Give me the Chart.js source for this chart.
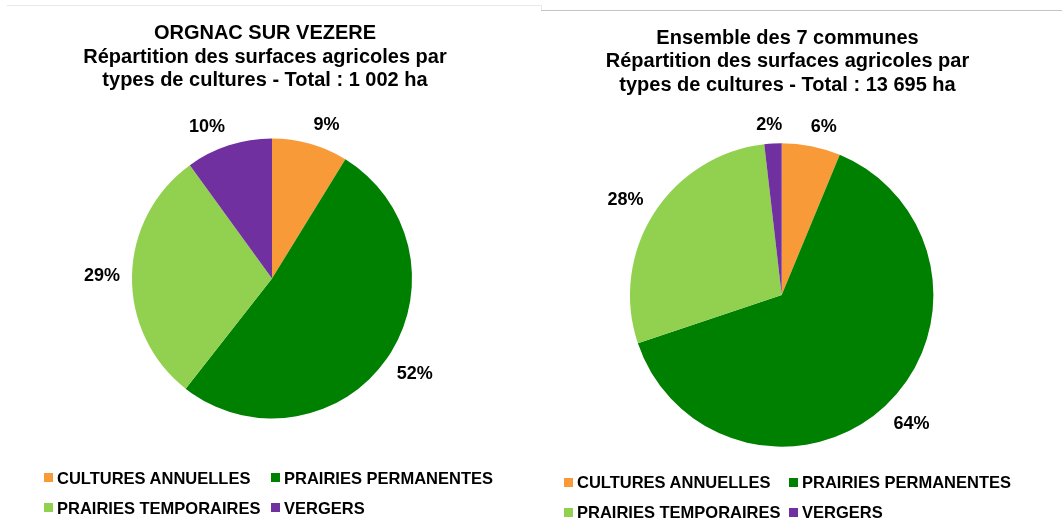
<!DOCTYPE html>
<html>
<head>
<meta charset="utf-8">
<script src="https://cdn.jsdelivr.net/npm/chart.js@4.4.0/dist/chart.umd.min.js"></script>
<style>
  html, body { margin:0; padding:0; background:#fff; }
  body { width:1062px; height:524px; position:relative; overflow:hidden; font-family:"Liberation Sans", Arial, sans-serif; color:#000; }
  .panel { position:absolute; top:0; height:524px; }
  .panel canvas { position:absolute; left:0; top:0; }
  .title { position:absolute; left:0; width:100%; text-align:center; font-weight:bold; font-size:20px; line-height:23.5px; }
  .leg { position:absolute; font-weight:bold; font-size:16.5px; line-height:18px; white-space:nowrap; }
  .box { position:absolute; width:9px; height:9px; }
  .frameL { position:absolute; left:7px; top:5px; width:534px; height:0; border-top:1px solid #e8e8e8; }
  .frameR { position:absolute; left:541px; top:10px; width:521px; height:0; border-top:1px solid #c4c4c4; }
  .frameS { position:absolute; left:541px; top:5px; width:0; height:5px; border-left:1px solid #e8e8e8; }
</style>
</head>
<body>
<div class="frameL"></div><div class="frameS"></div><div class="frameR"></div>

<div class="panel" id="pL" style="left:0;width:540px;">
  <canvas id="cL" width="540" height="524"></canvas>
  <div class="title" id="tL" style="top:21px;width:530px;"></div>
</div>
<div class="panel" id="pR" style="left:540px;width:522px;">
  <canvas id="cR" width="522" height="524"></canvas>
  <div class="title" id="tR" style="top:25.5px;width:495px;"></div>
</div>

<script>
// ---- data ----
const categories = ["CULTURES ANNUELLES", "PRAIRIES PERMANENTES", "PRAIRIES TEMPORAIRES", "VERGERS"];
const colors = ["#F99A38", "#008000", "#92D050", "#7030A0"];
const orgnacValues = [88, 519, 295, 100];        // ha, total 1 002
const ensembleValues = [856, 8710, 3878, 251];   // ha, total 13 695
const orgnacTitle = ["ORGNAC SUR VEZERE", "Répartition des surfaces agricoles par", "types de cultures - Total : 1 002 ha"];
const ensembleTitle = ["Ensemble des 7 communes", "Répartition des surfaces agricoles par", "types de cultures - Total : 13 695 ha"];

// ---- titles ----
document.getElementById('tL').innerHTML = orgnacTitle.join('<br>');
document.getElementById('tR').innerHTML = ensembleTitle.join('<br>');

// ---- legends (HTML, built from arrays) ----
function buildLegend(panelId, boxX, col2X, row1Y, rowGap) {
  const p = document.getElementById(panelId);
  categories.forEach((c, i) => {
    const col = i % 2, row = Math.floor(i / 2);
    const bx = col === 0 ? boxX : col2X;
    const cy = row1Y + row * rowGap;
    const b = document.createElement('div');
    b.className = 'box';
    b.style.left = bx + 'px';
    b.style.top = (cy - 4.5) + 'px';
    b.style.background = colors[i];
    p.appendChild(b);
    const t = document.createElement('div');
    t.className = 'leg';
    t.textContent = c;
    t.style.left = (bx + 13) + 'px';
    t.style.top = (cy - 9) + 'px';
    p.appendChild(t);
  });
}
buildLegend('pL', 44, 271, 477.5, 30);
buildLegend('pR', 24, 249, 482, 30);

// ---- percentage labels plugin ----
const pctLabels = {
  id: 'pctLabels',
  afterDatasetsDraw(chart) {
    const ctx = chart.ctx;
    const ds = chart.data.datasets[0].data;
    const total = ds.reduce((a, b) => a + b, 0);
    const meta = chart.getDatasetMeta(0);
    ctx.save();
    ctx.font = 'bold 18px "Liberation Sans", Arial, sans-serif';
    ctx.fillStyle = '#000';
    ctx.textAlign = 'center';
    ctx.textBaseline = 'middle';
    meta.data.forEach((arc, i) => {
      const mid = (arc.startAngle + arc.endAngle) / 2;
      const dx = Math.cos(mid), dy = Math.sin(mid);
      const txt = Math.round(ds[i] / total * 100) + '%';
      const w = ctx.measureText(txt).width, h = 16;
      const d = arc.outerRadius + 12;
      const px = arc.x + dx * d, py = arc.y + dy * d;
      const k = 4;
      const ox = Math.max(-1, Math.min(1, dx * k)) * w / 2;
      const oy = Math.max(-1, Math.min(1, dy * k)) * h / 2;
      ctx.fillText(txt, px + ox, py + oy + 1);
    });
    ctx.restore();
  }
};

function makePie(id, values, padding) {
  return new Chart(document.getElementById(id), {
    type: 'pie',
    data: {
      labels: categories,
      datasets: [{ data: values, backgroundColor: colors, borderWidth: 0 }]
    },
    options: {
      responsive: false,
      animation: false,
      layout: { padding: padding },
      plugins: { legend: { display: false }, tooltip: { enabled: false }, title: { display: false } }
    },
    plugins: [pctLabels]
  });
}

makePie('cL', orgnacValues, { left: 132, right: 128, top: 138.5, bottom: 105.5 });
makePie('cR', ensembleValues, { left: 90, right: 128.6, top: 143.3, bottom: 77.3 });
</script>
</body>
</html>
